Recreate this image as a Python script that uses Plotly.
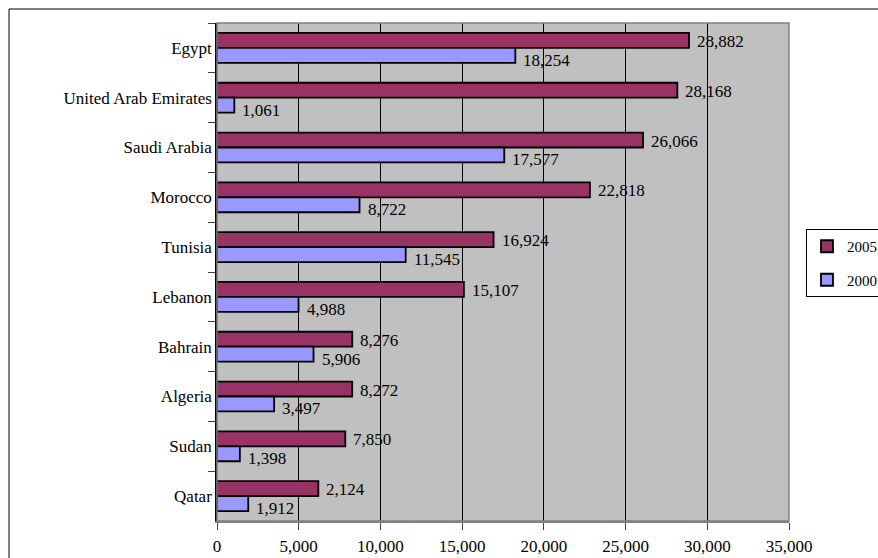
import plotly.graph_objects as go

countries = ["Egypt", "United Arab Emirates", "Saudi Arabia", "Morocco", "Tunisia",
             "Lebanon", "Bahrain", "Algeria", "Sudan", "Qatar"]
# bar lengths as drawn in the reference
bars_2005 = [28882, 28168, 26066, 22818, 16924, 15107, 8276, 8272, 7850, 6200]
bars_2000 = [18254, 1061, 17577, 8722, 11545, 4988, 5906, 3497, 1398, 1912]
# data labels as printed in the reference
labels_2005 = ["28,882", "28,168", "26,066", "22,818", "16,924", "15,107", "8,276", "8,272", "7,850", "2,124"]
labels_2000 = ["18,254", "1,061", "17,577", "8,722", "11,545", "4,988", "5,906", "3,497", "1,398", "1,912"]
x_ticks = [0, 5000, 10000, 15000, 20000, 25000, 30000, 35000]

FONT = "'Liberation Serif', 'Times New Roman', 'DejaVu Serif', serif"
W, H = 878, 558
L, R, T, B = 217, 89, 23, 37
pw, ph = W - L - R, H - T - B

fig = go.Figure()
fig.add_trace(go.Bar(
    y=countries, x=bars_2005, name="2005", orientation="h",
    marker=dict(color="#993366", line=dict(color="black", width=1.8)),
    legendgroup="a",
))
fig.add_trace(go.Bar(
    y=countries, x=bars_2000, name="2000", orientation="h",
    marker=dict(color="#9999FF", line=dict(color="black", width=1.8)),
    legendgroup="b",
))

annotations = []
for i in range(len(countries)):
    annotations.append(dict(x=bars_2005[i], y=i - 0.15, xref="x", yref="y",
                            text=labels_2005[i], showarrow=False, xanchor="left",
                            xshift=6, yshift=-1, font=dict(family=FONT, size=17, color="black")))
    annotations.append(dict(x=bars_2000[i], y=i + 0.15, xref="x", yref="y",
                            text=labels_2000[i], showarrow=False, xanchor="left",
                            xshift=6, yshift=-5, font=dict(family=FONT, size=17, color="black")))

def px_x(p):
    return (p - L) / pw

def px_y(p):
    return 1 - (p - T) / ph

shapes = [
    # outer chart border
    dict(type="rect", xref="paper", yref="paper",
         x0=px_x(9), x1=px_x(W + 5), y0=px_y(H + 5), y1=px_y(9),
         line=dict(color="black", width=1), layer="below"),
    # plot area border
    dict(type="rect", xref="paper", yref="paper", x0=0, x1=1, y0=0, y1=1,
         line=dict(color="#808080", width=1.5), layer="above"),
]

fig.update_layout(
    width=W, height=H,
    margin=dict(l=L, r=R, t=T, b=B, autoexpand=False),
    paper_bgcolor="white", plot_bgcolor="#C0C0C0",
    barmode="group", bargap=0.4, bargroupgap=0,
    font=dict(family=FONT, size=17, color="black"),
    showlegend=True,
    legend=dict(x=px_x(806), y=px_y(229), xanchor="left", yanchor="top",
                bgcolor="white", bordercolor="black", borderwidth=1,
                font=dict(family=FONT, size=15, color="black"),
                tracegroupgap=11, traceorder="grouped", itemwidth=30),
    annotations=annotations,
    shapes=shapes,
    xaxis=dict(range=[0, 35000], tickvals=x_ticks, tickformat=",",
               showgrid=True, gridcolor="black", gridwidth=1, zeroline=False,
               showline=True, linecolor="#808080", linewidth=1.5,
               ticks="outside", ticklen=7, tickcolor="#404040",
               ticklabelstandoff=2, automargin=False),
    yaxis=dict(type="category", range=[9.5, -0.5], showgrid=False, zeroline=False,
               showline=True, linecolor="black", linewidth=1.5,
               ticks="outside", ticklen=7, tickcolor="#404040", tickson="boundaries",
               automargin=False),
)

fig.write_html("out.html")
